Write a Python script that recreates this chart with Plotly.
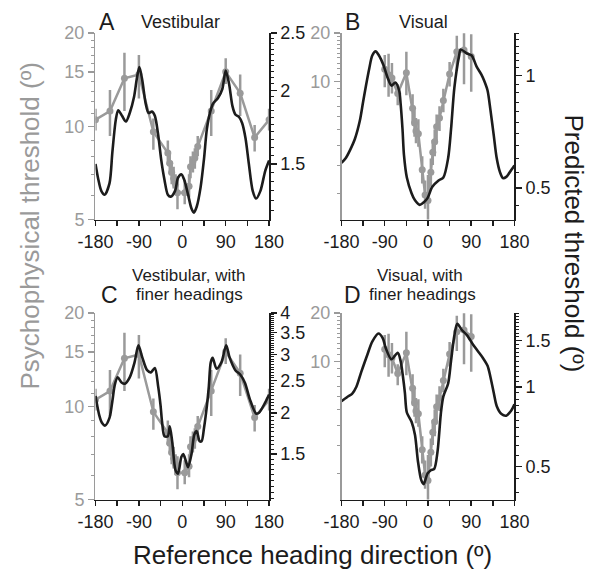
import math
import plotly.graph_objects as go

# ---------------- data ----------------
# Psychophysical thresholds, vestibular condition (panels A and C)
vest_heading = [-180, -150, -120, -90, -60, -30, -26, -22, -18, -14, -10, 5, 14, 17, 22, 26, 32, 60, 90, 120, 150, 180]
vest_thr = [10.5, 11.2, 14.3, 14.7, 9.6, 8.2, 7.6, 7.1, 6.8, 6.5, 6.1, 6.1, 6.4, 7.4, 7.7, 7.9, 8.6, 11.2, 15.0, 12.8, 9.2, 10.5]
vest_hi = [11.4, 13.1, 17.3, 17.0, 10.6, 9.0, 8.2, 7.7, 7.4, 7.0, 6.9, 6.7, 7.0, 8.0, 8.3, 8.5, 9.3, 13.1, 16.6, 14.7, 10.1, 11.4]
vest_lo = [9.7, 9.3, 11.2, 12.3, 8.4, 7.5, 7.0, 6.5, 6.3, 6.0, 5.4, 5.6, 5.9, 6.8, 7.1, 7.3, 8.0, 9.3, 13.7, 10.8, 8.3, 9.7]

# Psychophysical thresholds, visual condition (panels B and D)
vis_heading = [-90, -82, -75, -63, -45, -32, -28, -25, -20, -12, -6, 0, 6, 10, 14, 18, 24, 32, 45, 60, 75, 90]
vis_thr = [11.9, 11.0, 10.5, 8.4, 11.3, 6.8, 5.5, 4.9, 4.7, 2.8, 1.95, 1.8, 2.7, 3.6, 4.2, 5.2, 5.9, 7.6, 11.1, 15.3, 15.7, 14.3]
vis_hi = [14.6, 14.9, 13.0, 9.6, 15.3, 8.3, 6.6, 5.9, 5.8, 3.4, 2.4, 2.6, 3.3, 4.3, 5.0, 6.2, 7.0, 9.0, 13.2, 19.3, 21.6, 19.7]
vis_lo = [9.2, 8.0, 8.4, 7.1, 8.2, 5.5, 4.5, 4.1, 3.9, 2.3, 1.6, 1.2, 2.2, 3.0, 3.4, 4.3, 4.9, 6.4, 9.3, 11.6, 9.6, 8.6]

# Predicted thresholds (black curves)
predA_x = [-180, -174, -168, -161, -151, -145, -138, -133, -125, -117, -109, -100, -94, -89, -83, -76, -70, -63, -57, -50, -44, -37, -30, -24, -15, -9, -2, 4, 12, 19, 24, 30, 38, 45, 51, 58, 64, 74, 83, 90, 97, 104, 110, 118, 124, 131, 138, 146, 153, 162, 172, 180]
predA_y = [1.50, 1.41, 1.35, 1.33, 1.39, 1.57, 1.78, 1.85, 1.81, 1.77, 1.83, 1.95, 2.10, 2.19, 2.08, 1.90, 1.83, 1.84, 1.81, 1.68, 1.53, 1.41, 1.33, 1.32, 1.35, 1.42, 1.44, 1.41, 1.33, 1.26, 1.24, 1.27, 1.37, 1.53, 1.72, 1.84, 1.90, 1.94, 2.01, 2.16, 2.05, 1.88, 1.82, 1.80, 1.76, 1.66, 1.50, 1.35, 1.31, 1.35, 1.46, 1.52]

predB_x = [-180, -171, -162, -152, -142, -135, -129, -122, -116, -109, -102, -93, -84, -76, -68, -60, -57, -53, -50, -44, -34, -27, -17, -8, -1, 9, 22, 32, 42, 48, 55, 65, 68, 81, 91, 101, 111, 117, 124, 130, 137, 143, 150, 156, 163, 170, 180]
predB_y = [0.584, 0.602, 0.633, 0.678, 0.756, 0.852, 0.942, 1.049, 1.133, 1.162, 1.133, 1.070, 0.988, 0.941, 0.959, 0.913, 0.843, 0.719, 0.614, 0.534, 0.484, 0.464, 0.451, 0.459, 0.470, 0.504, 0.524, 0.534, 0.602, 0.719, 0.931, 1.135, 1.176, 1.147, 1.133, 1.059, 1.008, 0.969, 0.913, 0.810, 0.691, 0.602, 0.551, 0.532, 0.536, 0.551, 0.575]

predC_x = [-180, -172, -167, -160, -151, -145, -140, -134, -126, -119, -109, -99, -91, -83, -73, -65, -57, -50, -45, -42, -37, -30, -26, -21, -14, -9, -2, 2, 8, 12, 19, 25, 30, 36, 40, 45, 51, 55, 59, 63, 71, 81, 91, 98, 110, 120, 130, 140, 153, 159, 172, 180]
predC_y = [2.25, 1.96, 1.87, 1.83, 1.93, 2.17, 2.43, 2.56, 2.47, 2.45, 2.56, 2.84, 3.20, 2.94, 2.69, 2.65, 2.73, 2.40, 2.10, 1.88, 1.70, 1.70, 1.82, 1.64, 1.34, 1.31, 1.47, 1.50, 1.42, 1.37, 1.50, 1.72, 1.76, 1.64, 1.64, 1.80, 2.10, 2.40, 2.84, 2.93, 2.72, 2.84, 3.20, 2.94, 2.69, 2.61, 2.46, 2.20, 1.99, 2.00, 2.15, 2.27]

predD_x = [-180, -168, -158, -149, -139, -132, -126, -116, -103, -94, -88, -76, -63, -57, -52, -48, -44, -34, -27, -21, -14, -9, -1, 6, 13, 20, 27, 32, 42, 48, 55, 61, 71, 81, 94, 104, 114, 124, 130, 137, 143, 153, 163, 173, 180]
predD_y = [0.884, 0.917, 0.943, 1.003, 1.139, 1.239, 1.329, 1.487, 1.596, 1.530, 1.406, 1.274, 1.348, 1.257, 1.092, 0.949, 0.801, 0.737, 0.658, 0.525, 0.444, 0.429, 0.470, 0.484, 0.490, 0.572, 0.801, 0.922, 1.032, 1.257, 1.573, 1.735, 1.641, 1.573, 1.446, 1.367, 1.292, 1.204, 1.092, 0.949, 0.848, 0.790, 0.779, 0.813, 0.860]

x_ticks = [-180, -90, 0, 90, 180]
x_ticklabels = ["-180", "-90", "0", "90", "180"]
x_minor = [-135, -45, 45, 135]

# ---------------- style ----------------
FONT = "Liberation Sans, Arial, sans-serif"
GRAY = "#9a9a9a"
BLACK = "#1c1c1c"
W, H = 601, 580

def px_x(a, b):
    return [a / W, b / W]

def px_y(top, bottom):
    return [1 - bottom / H, 1 - top / H]

XD_L = px_x(82, 265.7)
XD_R = px_x(342.3, 525.3)
YD_T = px_y(24, 217)
YD_B = px_y(314, 507)

def rng(lo, hi):
    return [math.log10(lo), math.log10(hi)]

def steps(a, b, s):
    n = int(round((b - a) / s))
    return [round(a + i * s, 3) for i in range(n + 1)]

panels = [
    dict(xa="x", yl="y", yr="y2", xd=XD_L, yd=YD_T,
         hx=vest_heading, hy=vest_thr, hh=vest_hi, hl=vest_lo,
         px=predA_x, py=predA_y,
         lrange=rng(5, 20), lticks=[5, 10, 15, 20], lminor=list(range(5, 21)),
         rrange=rng(1.207, 2.5), rticks=[1.5, 2, 2.5], rlabels=["1.5", "2", "2.5"], rminor=steps(1.2, 2.5, 0.05)),
    dict(xa="x2", yl="y3", yr="y4", xd=XD_R, yd=YD_T,
         hx=vis_heading, hy=vis_thr, hh=vis_hi, hl=vis_lo,
         px=predB_x, py=predB_y,
         lrange=rng(1.37, 20), lticks=[10, 20], lminor=list(range(2, 21)),
         rrange=rng(0.412, 1.30), rticks=[0.5, 1], rlabels=["0.5", "1"], rminor=steps(0.45, 1.3, 0.05)),
    dict(xa="x3", yl="y5", yr="y6", xd=XD_L, yd=YD_B,
         hx=vest_heading, hy=vest_thr, hh=vest_hi, hl=vest_lo,
         px=predC_x, py=predC_y,
         lrange=rng(5, 20), lticks=[5, 10, 15, 20], lminor=list(range(5, 21)),
         rrange=rng(1.094, 4.0), rticks=[1.5, 2, 2.5, 3, 3.5, 4], rlabels=["1.5", "2", "2.5", "3", "3.5", "4"], rminor=steps(1.1, 4.0, 0.05)),
    dict(xa="x4", yl="y7", yr="y8", xd=XD_R, yd=YD_B,
         hx=vis_heading, hy=vis_thr, hh=vis_hi, hl=vis_lo,
         px=predD_x, py=predD_y,
         lrange=rng(1.37, 20), lticks=[10, 20], lminor=list(range(2, 21)),
         rrange=rng(0.375, 1.905), rticks=[0.5, 1, 1.5], rlabels=["0.5", "1", "1.5"], rminor=steps(0.4, 1.9, 0.05)),
]

fig = go.Figure()
layout = {}

def axname(ref):
    return ref[0] + "axis" + ref[1:]

for p in panels:
    up = [h - y for h, y in zip(p["hh"], p["hy"])]
    dn = [y - l for y, l in zip(p["hy"], p["hl"])]
    fig.add_trace(go.Scatter(
        x=p["hx"], y=p["hy"], mode="lines+markers",
        line=dict(color=GRAY, width=2.5),
        marker=dict(size=7, color=GRAY),
        error_y=dict(type="data", symmetric=False, array=up, arrayminus=dn,
                     color=GRAY, thickness=2.5, width=0),
        xaxis=p["xa"], yaxis=p["yl"], showlegend=False, hoverinfo="skip",
    ))
    fig.add_trace(go.Scatter(
        x=p["px"], y=p["py"], mode="lines",
        line=dict(color=BLACK, width=2.6, shape="spline", smoothing=0.8),
        xaxis=p["xa"], yaxis=p["yr"], showlegend=False, hoverinfo="skip",
    ))
    layout[axname(p["xa"])] = dict(
        domain=p["xd"], anchor=p["yl"], range=[-180, 180],
        tickmode="array", tickvals=x_ticks, ticktext=x_ticklabels,
        ticks="outside", ticklen=5, tickwidth=1.5, tickcolor=BLACK,
        showline=True, linecolor=BLACK, linewidth=1.5,
        showgrid=False, zeroline=False,
        tickfont=dict(family=FONT, size=18, color=BLACK),
        minor=dict(tickmode="array", tickvals=x_minor, ticks="outside",
                   ticklen=5, tickwidth=1.5, tickcolor=BLACK),
    )
    layout[axname(p["yl"])] = dict(
        domain=p["yd"], anchor=p["xa"], side="left", type="log",
        range=p["lrange"], tickmode="array", tickvals=p["lticks"],
        ticktext=[str(v) for v in p["lticks"]],
        ticks="outside", ticklen=6, tickwidth=1.5, tickcolor=GRAY,
        showline=True, linecolor=GRAY, linewidth=1.5,
        showgrid=False, zeroline=False,
        tickfont=dict(family=FONT, size=18, color=GRAY),
        minor=dict(tickmode="array", tickvals=p["lminor"], ticks="outside",
                   ticklen=3, tickwidth=1, tickcolor=GRAY),
    )
    layout[axname(p["yr"])] = dict(
        overlaying=p["yl"], anchor=p["xa"], side="right", type="log",
        range=p["rrange"], tickmode="array", tickvals=p["rticks"],
        ticktext=p["rlabels"],
        ticks="outside", ticklen=6, tickwidth=1.5, tickcolor=BLACK,
        showline=True, linecolor=BLACK, linewidth=1.5,
        showgrid=False, zeroline=False,
        tickfont=dict(family=FONT, size=18, color=BLACK),
        minor=dict(tickmode="array", tickvals=p["rminor"], ticks="outside",
                   ticklen=3, tickwidth=1, tickcolor=BLACK),
    )

def ann(text, x, y, size, color=BLACK, angle=0):
    return dict(text=text, x=x / W, y=1 - y / H, xref="paper", yref="paper",
                xanchor="center", yanchor="middle", showarrow=False,
                textangle=angle, font=dict(family=FONT, size=size, color=color))

annotations = [
    ann("A", 94, 12.5, 23),
    ann("Vestibular", 172, 12, 18),
    ann("B", 353.5, 12.5, 23),
    ann("Visual", 429, 12, 18),
    ann("Vestibular, with", 180, 275, 17),
    ann("C", 97, 295, 23),
    ann("finer headings", 181, 295, 17),
    ann("Visual, with", 425, 275, 17),
    ann("D", 353.5, 295, 23),
    ann("finer headings", 428, 295, 17),
    ann("Psychophysical threshold (º)", 13, 224, 26, GRAY, -90),
    ann("Predicted threshold (º)", 588, 241.5, 26, BLACK, 90),
    ann("Reference heading direction (º)", 311.7, 564, 26),
]

fig.update_layout(
    width=W, height=H, margin=dict(l=0, r=0, t=0, b=0),
    paper_bgcolor="white", plot_bgcolor="white",
    font=dict(family=FONT),
    annotations=annotations,
    hovermode=False,
    **layout,
)

fig.write_html(
    "out.html",
    config={"displayModeBar": False, "staticPlot": True},
    post_script="document.body.style.margin='0';document.body.style.overflow='hidden';",
)
